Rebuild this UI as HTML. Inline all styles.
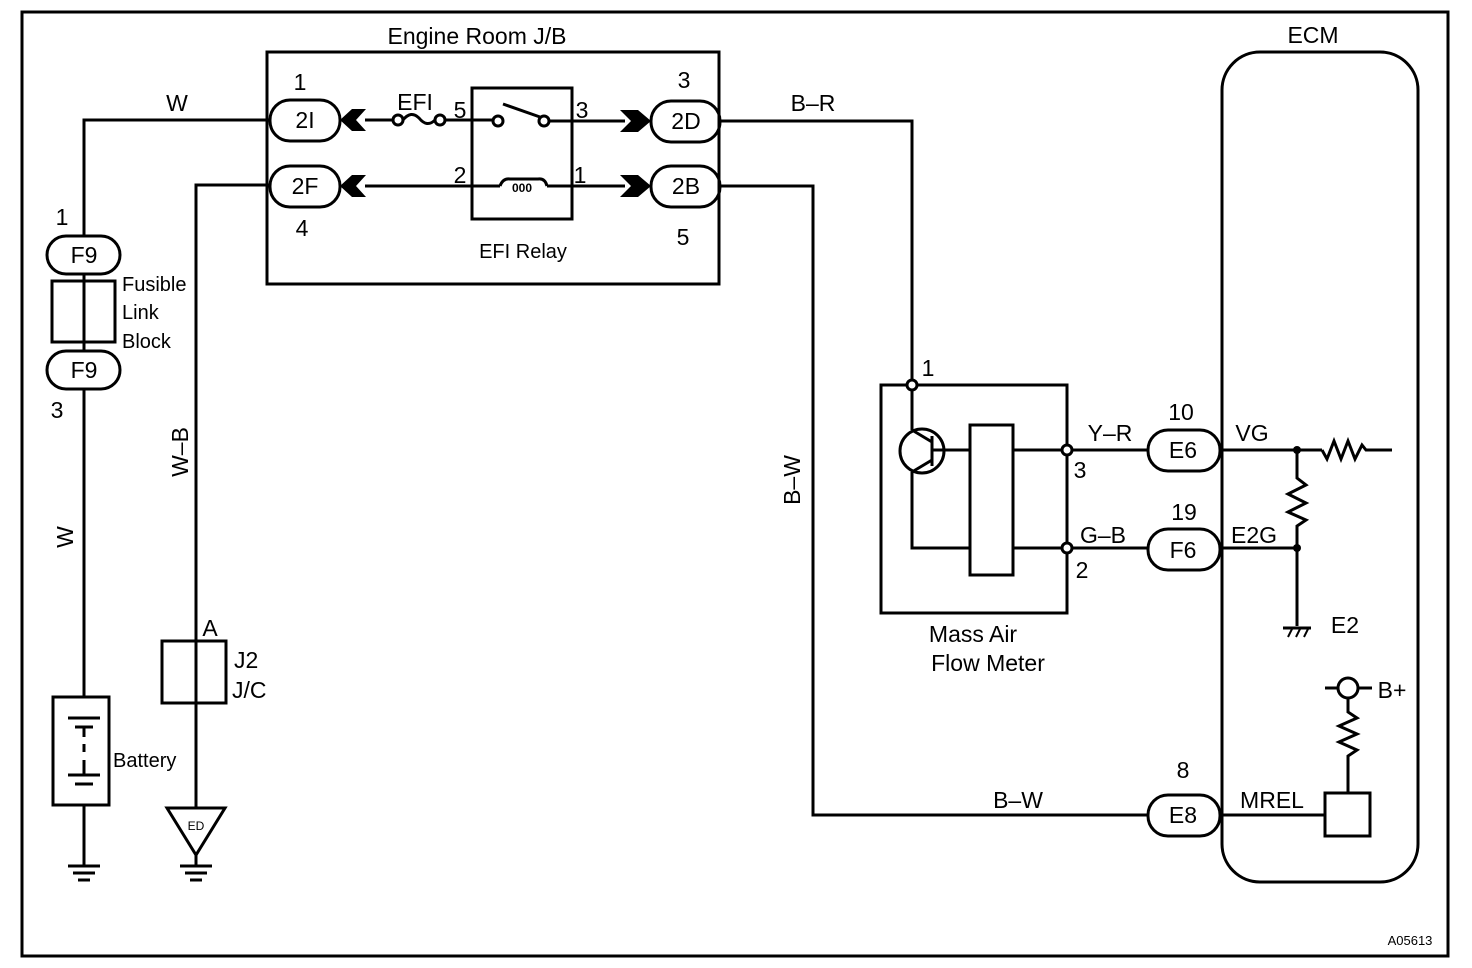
<!DOCTYPE html>
<html><head><meta charset="utf-8"><style>
html,body{margin:0;padding:0;background:#fff}
svg{display:block}
text{font-family:"Liberation Sans",sans-serif;font-size:23px;fill:#000}
</style></head><body>
<svg width="1472" height="968" viewBox="0 0 1472 968" xmlns="http://www.w3.org/2000/svg">
<g fill="none" stroke="#000" stroke-width="3">
<rect x="22" y="12" width="1426" height="944"/>
<rect x="267" y="52" width="452" height="232"/>
<rect x="1222" y="52" width="196" height="830" rx="38"/>
<!-- connectors -->
<rect x="270" y="100" width="70" height="41" rx="20"/>
<rect x="270" y="166" width="70" height="41" rx="20"/>
<rect x="651" y="101" width="69" height="41" rx="20"/>
<rect x="651" y="166" width="69" height="41" rx="20"/>
<rect x="47" y="236" width="73" height="38" rx="19"/>
<rect x="47" y="351" width="73" height="38" rx="19"/>
<rect x="1148" y="430" width="72" height="41" rx="20"/>
<rect x="1148" y="529" width="72" height="41" rx="20"/>
<rect x="1148" y="795" width="72" height="41" rx="20"/>
<!-- left wires -->
<polyline points="270,120 84,120 84,236"/>
<rect x="52" y="281" width="63" height="61"/>
<line x1="84" y1="274" x2="84" y2="351"/>
<line x1="84" y1="389" x2="84" y2="697"/>
<rect x="53" y="697" width="56" height="108"/>
<line x1="84" y1="805" x2="84" y2="866"/>
<polyline points="270,185 196,185 196,808"/>
<rect x="162" y="641" width="64" height="62"/>
<polygon points="167,808 225,808 196,855"/>
<line x1="196" y1="855" x2="196" y2="866"/>
<!-- relay -->
<line x1="365" y1="120" x2="393" y2="120"/>
<circle cx="398" cy="120" r="5"/>
<path d="M403,120 Q411,110 419,118 Q427,128 435,120"/>
<circle cx="440" cy="120" r="5"/>
<line x1="445" y1="120" x2="493" y2="120"/>
<rect x="472" y="88" width="100" height="131"/>
<circle cx="498" cy="121" r="5"/>
<line x1="503" y1="104" x2="540" y2="117"/>
<circle cx="544" cy="121" r="5"/>
<line x1="549" y1="121" x2="625" y2="121"/>
<line x1="365" y1="186" x2="500" y2="186"/>
<path d="M500,186 Q503,178 510,179 L538,179 Q545,178 547,186"/>
<line x1="547" y1="186" x2="625" y2="186"/>
<!-- right wires -->
<polyline points="720,121 912,121 912,380"/>
<polyline points="720,186 813,186 813,815 1148,815"/>
<!-- MAF -->
<rect x="881" y="385" width="186" height="228"/>
<circle cx="912" cy="385" r="5" fill="#fff"/>
<line x1="912" y1="390" x2="912" y2="430"/>
<circle cx="922" cy="451" r="22"/>
<line x1="932" y1="436" x2="932" y2="466"/>
<line x1="932" y1="442" x2="912" y2="430"/>
<line x1="932" y1="460" x2="912" y2="472"/>
<polyline points="912,472 912,548 970,548"/>
<line x1="932" y1="450" x2="970" y2="450"/>
<rect x="970" y="425" width="43" height="150"/>
<line x1="1013" y1="450" x2="1062" y2="450"/>
<line x1="1013" y1="548" x2="1062" y2="548"/>
<circle cx="1067" cy="450" r="5" fill="#fff"/>
<circle cx="1067" cy="548" r="5" fill="#fff"/>
<line x1="1072" y1="450" x2="1148" y2="450"/>
<line x1="1072" y1="548" x2="1148" y2="548"/>
<!-- ECM internals -->
<line x1="1220" y1="450" x2="1322" y2="450"/>
<polyline points="1322,450 1327,459 1334,441 1341,459 1348,441 1355,459 1362,445 1366,450 1392,450"/>
<polyline points="1297,450 1297,478 1306,485 1288,494 1306,503 1288,512 1306,520 1297,526 1297,626"/>
<line x1="1220" y1="548" x2="1297" y2="548"/>
<line x1="1283" y1="628" x2="1311" y2="628"/>
<circle cx="1348" cy="688" r="10"/>
<line x1="1325" y1="688" x2="1338" y2="688"/>
<line x1="1358" y1="688" x2="1372" y2="688"/>
<polyline points="1348,698 1348,712 1357,718 1339,726 1357,734 1339,742 1357,750 1348,756 1348,793"/>
<rect x="1325" y="793" width="45" height="43"/>
<line x1="1220" y1="815" x2="1325" y2="815"/>
</g>
<g stroke="#000" stroke-width="2"><line x1="1288" y1="637" x2="1292" y2="629"/><line x1="1296" y1="637" x2="1300" y2="629"/><line x1="1304" y1="637" x2="1308" y2="629"/></g>
<g stroke="#000" stroke-width="3">
<line x1="68" y1="718" x2="100" y2="718"/><line x1="75" y1="727" x2="93" y2="727"/>
<line x1="84" y1="727" x2="84" y2="737"/><line x1="84" y1="744" x2="84" y2="752"/>
<line x1="68" y1="775" x2="100" y2="775"/><line x1="75" y1="784" x2="93" y2="784"/>
<line x1="84" y1="760" x2="84" y2="775"/>
<line x1="68" y1="866" x2="100" y2="866"/><line x1="73" y1="873" x2="95" y2="873"/><line x1="78" y1="880" x2="90" y2="880"/>
<line x1="180" y1="866" x2="212" y2="866"/><line x1="185" y1="873" x2="207" y2="873"/><line x1="190" y1="880" x2="202" y2="880"/>
</g>
<g fill="#000">
<polygon points="340,120 352,109 366,109 356,120 366,131 352,131"/>
<polygon points="340,186 352,175 366,175 356,186 366,197 352,197"/>
<polygon points="651,121 638,110 620,110 631,121 620,132 638,132"/>
<polygon points="651,186 638,175 620,175 631,186 620,197 638,197"/>
<circle cx="1297" cy="450" r="4"/><circle cx="1297" cy="548" r="4"/>
</g>
<text x="477" y="44" text-anchor="middle">Engine Room J/B</text>
<text x="1313" y="43" text-anchor="middle">ECM</text>
<text x="305" y="128" text-anchor="middle">2I</text>
<text x="305" y="194" text-anchor="middle">2F</text>
<text x="686" y="129" text-anchor="middle">2D</text>
<text x="686" y="194" text-anchor="middle">2B</text>
<text x="300" y="90" text-anchor="middle">1</text>
<text x="302" y="236" text-anchor="middle">4</text>
<text x="684" y="88" text-anchor="middle">3</text>
<text x="683" y="245" text-anchor="middle">5</text>
<text x="415" y="110" text-anchor="middle">EFI</text>
<text x="460" y="118" text-anchor="middle">5</text>
<text x="582" y="118" text-anchor="middle">3</text>
<text x="460" y="183" text-anchor="middle">2</text>
<text x="580" y="183" text-anchor="middle">1</text>
<text x="523" y="258" text-anchor="middle" style="font-size:20px">EFI Relay</text>
<text x="522" y="192" text-anchor="middle" style="font-size:12px;font-weight:bold">000</text>
<text x="177" y="111" text-anchor="middle">W</text>
<text x="813" y="111" text-anchor="middle">B–R</text>
<text x="62" y="225" text-anchor="middle">1</text>
<text x="84" y="263" text-anchor="middle">F9</text>
<text x="84" y="378" text-anchor="middle">F9</text>
<text x="57" y="418" text-anchor="middle">3</text>
<text x="122" y="291" style="font-size:20px">Fusible</text>
<text x="122" y="319" style="font-size:20px">Link</text>
<text x="122" y="348" style="font-size:20px">Block</text>
<text x="113" y="767" style="font-size:20px">Battery</text>
<text transform="translate(73,537) rotate(-90)" text-anchor="middle">W</text>
<text transform="translate(188,452) rotate(-90)" text-anchor="middle">W–B</text>
<text transform="translate(800,480) rotate(-90)" text-anchor="middle">B–W</text>
<text x="210" y="636" text-anchor="middle">A</text>
<text x="234" y="668">J2</text>
<text x="232" y="698">J/C</text>
<text x="196" y="830" text-anchor="middle" style="font-size:12px">ED</text>
<text x="928" y="376" text-anchor="middle">1</text>
<text x="1080" y="478" text-anchor="middle">3</text>
<text x="1082" y="578" text-anchor="middle">2</text>
<text x="973" y="642" text-anchor="middle">Mass Air</text>
<text x="988" y="671" text-anchor="middle">Flow Meter</text>
<text x="1110" y="441" text-anchor="middle">Y–R</text>
<text x="1103" y="543" text-anchor="middle">G–B</text>
<text x="1181" y="420" text-anchor="middle">10</text>
<text x="1184" y="520" text-anchor="middle">19</text>
<text x="1183" y="458" text-anchor="middle">E6</text>
<text x="1183" y="558" text-anchor="middle">F6</text>
<text x="1183" y="823" text-anchor="middle">E8</text>
<text x="1183" y="778" text-anchor="middle">8</text>
<text x="1252" y="441" text-anchor="middle">VG</text>
<text x="1254" y="543" text-anchor="middle">E2G</text>
<text x="1345" y="633" text-anchor="middle">E2</text>
<text x="1392" y="698" text-anchor="middle">B+</text>
<text x="1272" y="808" text-anchor="middle">MREL</text>
<text x="1018" y="808" text-anchor="middle">B–W</text>
<text x="1410" y="945" text-anchor="middle" style="font-size:13px">A05613</text>
</svg>
</body></html>
